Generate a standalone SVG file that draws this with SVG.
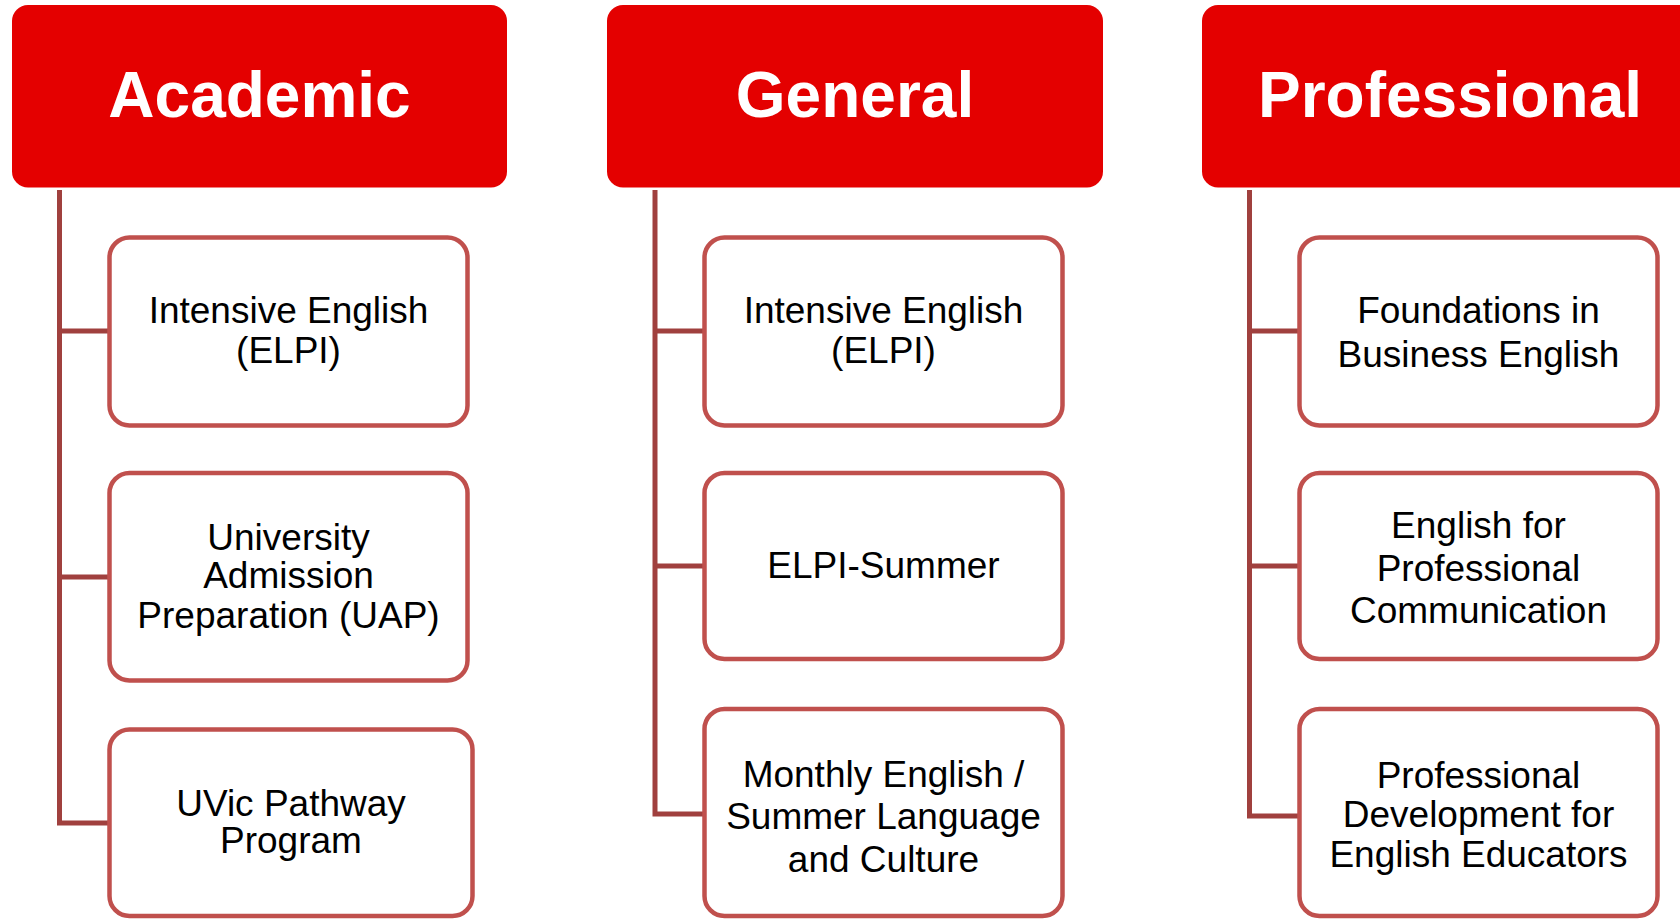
<svg xmlns="http://www.w3.org/2000/svg" width="1680" height="919" viewBox="0 0 1680 919">
<style>
.hdr{fill:#E40000}
.hdrt{fill:#FFFFFF;font-family:"Liberation Sans",Arial,sans-serif;font-weight:bold;font-size:64px;text-anchor:middle}
.box{fill:#FFFFFF;stroke:#C0504D;stroke-width:4.5}
.t{fill:#000000;font-family:"Liberation Sans",Arial,sans-serif;font-size:37px;text-anchor:middle}
.con{fill:none;stroke:#A0403E;stroke-width:5;stroke-linejoin:miter}
</style>
<rect width="1680" height="919" fill="#FFFFFF"/>
<g id="connectors">
<path class="con" d="M59.5 190 V823 H109.5 M59.5 331 H109.5 M59.5 577 H109.5"/>
<path class="con" d="M655 190 V814 H704.5 M655 331 H704.5 M655 566 H704.5"/>
<path class="con" d="M1249.5 190 V816 H1299.5 M1249.5 331 H1299.5 M1249.5 566 H1299.5"/>
</g>
<g id="academic">
<rect class="hdr" x="12" y="5" width="495" height="182.5" rx="16"/>
<text class="hdrt" x="259.5" y="117">Academic</text>
</g>
<g id="general">
<rect class="hdr" x="607" y="5" width="496" height="182.5" rx="16"/>
<text class="hdrt" x="855" y="117">General</text>
</g>
<g id="professional">
<rect class="hdr" x="1202" y="5" width="495" height="182.5" rx="16"/>
<text class="hdrt" x="1450" y="117">Professional</text>
</g>
<g id="a1">
<rect class="box" x="109.5" y="237.5" width="358" height="188" rx="20"/>
<text class="t" x="288.5" y="323">Intensive English</text>
<text class="t" x="288.5" y="363">(ELPI)</text>
</g>
<g id="a2">
<rect class="box" x="109.5" y="473" width="358" height="207.5" rx="20"/>
<text class="t" x="288.5" y="550">University</text>
<text class="t" x="288.5" y="588">Admission</text>
<text class="t" x="288.5" y="628">Preparation (UAP)</text>
</g>
<g id="a3">
<rect class="box" x="109.5" y="729.5" width="363" height="186.5" rx="20"/>
<text class="t" x="291" y="816">UVic Pathway</text>
<text class="t" x="291" y="853">Program</text>
</g>
<g id="g1">
<rect class="box" x="704.5" y="237.5" width="358" height="188" rx="20"/>
<text class="t" x="883.5" y="323">Intensive English</text>
<text class="t" x="883.5" y="363">(ELPI)</text>
</g>
<g id="g2">
<rect class="box" x="704.5" y="473" width="358" height="186" rx="20"/>
<text class="t" x="883.5" y="578">ELPI-Summer</text>
</g>
<g id="g3">
<rect class="box" x="704.5" y="709" width="358" height="207" rx="20"/>
<text class="t" x="883.5" y="787">Monthly English /</text>
<text class="t" x="883.5" y="829">Summer Language</text>
<text class="t" x="883.5" y="872">and Culture</text>
</g>
<g id="p1">
<rect class="box" x="1299.5" y="237.5" width="358" height="188" rx="20"/>
<text class="t" x="1478.5" y="323">Foundations in</text>
<text class="t" x="1478.5" y="367">Business English</text>
</g>
<g id="p2">
<rect class="box" x="1299.5" y="473" width="358" height="186" rx="20"/>
<text class="t" x="1478.5" y="538">English for</text>
<text class="t" x="1478.5" y="581">Professional</text>
<text class="t" x="1478.5" y="623">Communication</text>
</g>
<g id="p3">
<rect class="box" x="1299.5" y="709" width="358" height="207" rx="20"/>
<text class="t" x="1478.5" y="788">Professional</text>
<text class="t" x="1478.5" y="827">Development for</text>
<text class="t" x="1478.5" y="867">English Educators</text>
</g>
</svg>
